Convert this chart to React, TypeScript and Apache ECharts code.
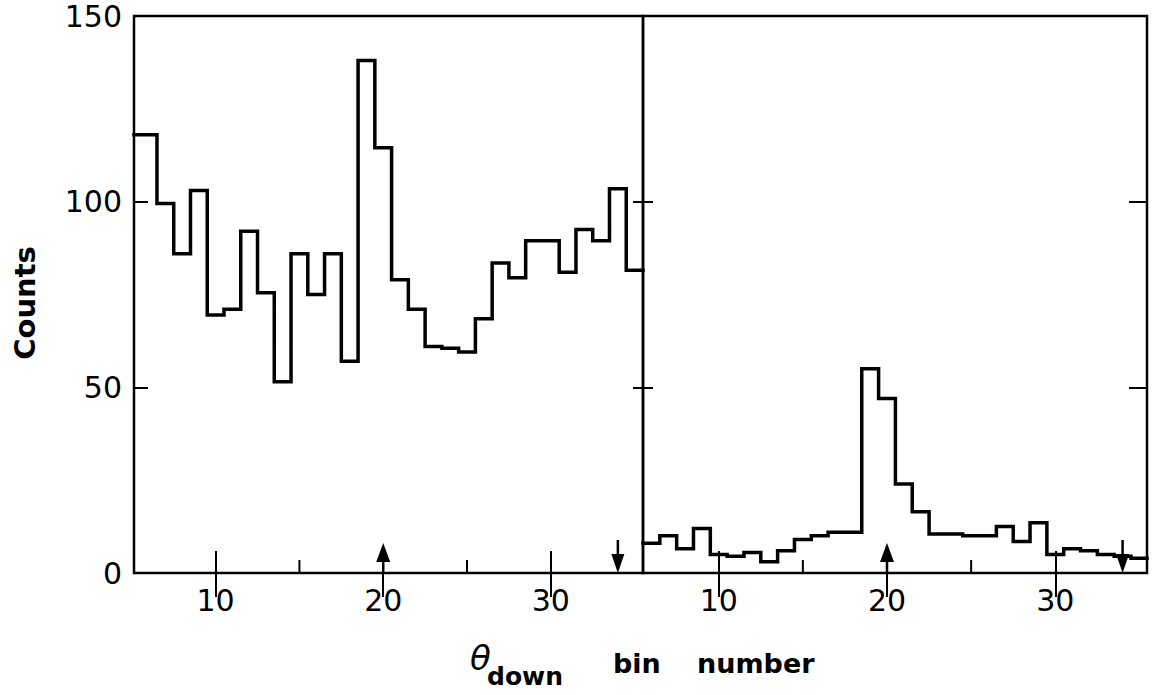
import React, { useEffect, useRef } from "react";
import * as echarts from "echarts";

// ---- data ----
const binNumbers = [6, 7, 8, 9, 10, 11, 12, 13, 14, 15, 16, 17, 18, 19, 20, 21, 22, 23, 24, 25, 26, 27, 28, 29, 30, 31, 32, 33, 34, 35];
const leftCounts = [118, 99.5, 86, 103, 69.5, 71, 92, 75.5, 51.5, 86, 75, 86, 57, 138, 114.5, 79, 71, 61, 60.5, 59.5, 68.5, 83.5, 79.5, 89.5, 89.5, 81, 92.5, 89.5, 103.5, 81.5];
const rightCounts = [8, 10, 6.5, 12, 5, 4.5, 5.5, 3, 6, 9, 10, 11, 11, 55, 47, 24, 16.5, 10.5, 10.5, 10, 10, 12.5, 8.5, 13.5, 5, 6.5, 6, 5, 4.5, 4];
const xLabelValues = [10, 20, 30];
const xMinorValues = [15, 25];
const yTickValues = [50, 100];
const arrowUpAt = [20];
const arrowDownAt = [34];
const leftRange = [5.13, 35.5];
const rightRange = [5.5, 35.45];
const yMin = 0;
const yMax = 150;
const yStep = 50;

const FONT = "DejaVu Sans";

function stepData(bins: number[], counts: number[], range: number[]) {
  const pts: number[][] = [[range[0], counts[0]]];
  for (let i = 1; i < bins.length; i++) pts.push([bins[i] - 0.5, counts[i]]);
  pts.push([range[1], counts[counts.length - 1]]);
  return pts;
}

function xAxes(range: number[], gridIndex: number) {
  return [
    {
      type: "value",
      gridIndex,
      position: "bottom",
      min: range[0],
      max: range[1],
      axisLine: { show: false },
      splitLine: { show: false },
      axisTick: {
        show: true,
        inside: true,
        length: 22,
        customValues: xLabelValues,
        lineStyle: { color: "#000", width: 2 },
      },
      axisLabel: {
        show: true,
        customValues: xLabelValues,
        fontSize: 30,
        fontFamily: FONT,
        color: "#000",
        margin: 12,
      },
    },
    {
      type: "value",
      gridIndex,
      position: "top",
      min: range[0],
      max: range[1],
      axisLine: { show: false },
      splitLine: { show: false },
      axisTick: {
        show: true,
        inside: true,
        length: 24,
        customValues: xLabelValues,
        lineStyle: { color: "#000", width: 2 },
      },
      axisLabel: { show: false },
    },
  ];
}

function yAxis(gridIndex: number, position: string, tickLen: number, showLabels: boolean) {
  return {
    type: "value",
    gridIndex,
    position,
    min: yMin,
    max: yMax,
    interval: yStep,
    axisLine: { show: false },
    splitLine: { show: false },
    axisTick: {
      show: true,
      inside: true,
      length: tickLen,
      customValues: yTickValues,
      lineStyle: { color: "#000", width: 2 },
    },
    axisLabel: {
      show: showLabels,
      fontSize: 30,
      fontFamily: FONT,
      color: "#000",
      margin: 12,
    },
  };
}

function minorTickSeries(xi: number, yi: number) {
  return {
    type: "custom",
    xAxisIndex: xi,
    yAxisIndex: yi,
    silent: true,
    clip: false,
    data: xMinorValues.map((v) => [v, 0]),
    renderItem: (_p: any, api: any) => {
      const c = api.coord([api.value(0), 0]);
      return {
        type: "line",
        shape: { x1: c[0], y1: c[1], x2: c[0], y2: c[1] - 13 },
        style: { stroke: "#000", lineWidth: 2 },
      };
    },
  };
}

function arrowSeries(xi: number, yi: number) {
  const data = arrowUpAt.map((v) => [v, 0, 1]).concat(arrowDownAt.map((v) => [v, 0, -1]));
  return {
    type: "custom",
    xAxisIndex: xi,
    yAxisIndex: yi,
    silent: true,
    clip: false,
    data,
    renderItem: (_p: any, api: any) => {
      const c = api.coord([api.value(0), 0]);
      const x = c[0];
      const y0 = c[1];
      const dir = api.value(2);
      if (dir > 0) {
        const tip = y0 - 30;
        return {
          type: "group",
          children: [
            { type: "line", shape: { x1: x, y1: y0, x2: x, y2: tip + 10 }, style: { stroke: "#000", lineWidth: 2.5 } },
            { type: "polygon", shape: { points: [[x, tip], [x - 7, tip + 19], [x + 7, tip + 19]] }, style: { fill: "#000" } },
          ],
        };
      }
      const top = y0 - 33;
      return {
        type: "group",
        children: [
          { type: "line", shape: { x1: x, y1: top, x2: x, y2: y0 - 8 }, style: { stroke: "#000", lineWidth: 2.5 } },
          { type: "polygon", shape: { points: [[x, y0], [x - 6.5, y0 - 19], [x + 6.5, y0 - 19]] }, style: { fill: "#000" } },
        ],
      };
    },
  };
}

function histSeries(counts: number[], range: number[], xi: number, yi: number) {
  return {
    type: "line",
    xAxisIndex: xi,
    yAxisIndex: yi,
    step: "end",
    symbol: "none",
    silent: true,
    clip: false,
    lineStyle: { color: "#000", width: 3.5, join: "miter", cap: "square" },
    data: stepData(binNumbers, counts, range),
  };
}

export default function App() {
  const ref = useRef<HTMLDivElement>(null);
  useEffect(() => {
    if (!ref.current) return;
    const chart = echarts.init(ref.current, undefined, { renderer: "svg" });
    const gridBase = { show: true, borderColor: "#000", borderWidth: 2.5, backgroundColor: "transparent", containLabel: false };
    chart.setOption({
      animation: false,
      backgroundColor: "#fff",
      grid: [
        { ...gridBase, left: 134, top: 16, width: 509, height: 557 },
        { ...gridBase, left: 643, top: 16, width: 504, height: 557 },
      ],
      xAxis: [...xAxes(leftRange, 0), ...xAxes(rightRange, 1)],
      yAxis: [
        yAxis(0, "left", 14, true),
        yAxis(0, "right", 10, false),
        yAxis(1, "left", 10, false),
        yAxis(1, "right", 18, false),
      ],
      series: [
        histSeries(leftCounts, leftRange, 0, 0),
        histSeries(rightCounts, rightRange, 2, 2),
        minorTickSeries(0, 0),
        minorTickSeries(2, 2),
        arrowSeries(0, 0),
        arrowSeries(2, 2),
      ],
      graphic: [
        {
          type: "text",
          x: 25,
          y: 303,
          rotation: Math.PI / 2,
          style: { text: "Counts", font: `bold 29px '${FONT}'`, fill: "#000", align: "center", verticalAlign: "middle" },
        },
        {
          type: "text",
          x: 470,
          y: 658,
          style: { text: "θ", font: `italic 34px '${FONT}'`, fill: "#000", align: "left", verticalAlign: "middle" },
        },
        {
          type: "text",
          x: 487,
          y: 676,
          style: { text: "down", font: `bold 25px '${FONT}'`, fill: "#000", align: "left", verticalAlign: "middle" },
        },
        {
          type: "text",
          x: 613,
          y: 663,
          style: { text: "bin", font: `bold 27px '${FONT}'`, fill: "#000", align: "left", verticalAlign: "middle" },
        },
        {
          type: "text",
          x: 697,
          y: 663,
          style: { text: "number", font: `bold 27px '${FONT}'`, fill: "#000", align: "left", verticalAlign: "middle" },
        },
      ],
    });
    return () => chart.dispose();
  }, []);
  return <div ref={ref} style={{ position: "fixed", left: 0, top: 0, width: 1153, height: 695 }} />;
}
